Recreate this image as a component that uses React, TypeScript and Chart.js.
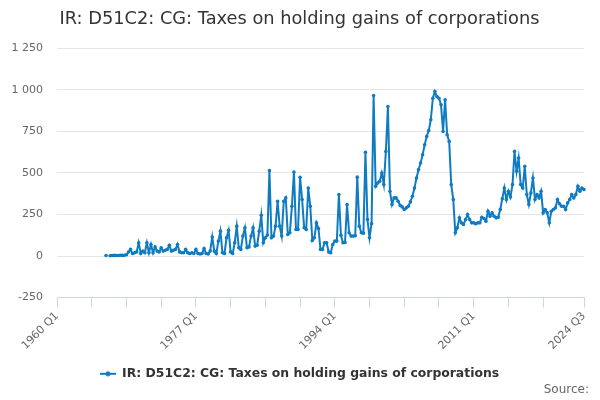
import { useEffect, useRef } from "react";
import { Chart, registerables } from "chart.js";

Chart.register(...registerables);

const TITLE = "IR: D51C2: CG: Taxes on holding gains of corporations";
const SERIES_NAME = "IR: D51C2: CG: Taxes on holding gains of corporations";
const SOURCE = "Source:";

// axis runs 1960 Q1 .. 2024 Q3
const FIRST_YEAR = 1960;
const LAST_YEAR = 2024;
const LAST_QUARTER = 3;
// series starts in 1966 Q1, nothing before
const QUARTERS_BEFORE_DATA = 24;

const xTickStep = 17;
const xTickLabels = ["1960 Q1", "1977 Q1", "1994 Q1", "2011 Q1", "2024 Q3"];
const yTicks = [-250, 0, 250, 500, 750, 1000, 1250];

// quarterly values, Q1..Q4 per row
const values1966to1979 = [
  3, null, 2, 3,
  4, 3, 3, 5,
  4, 5, 8, 24,
  40, 15, 20, 25,
  80, 15, 30, 20,
  80, 20, 70, 20,
  55, 30, 25, 50,
  30, 35, 40, 65,
  30, 35, 40, 70,
  25, 20, 20, 40,
  20, 15, 20, 15,
  40, 15, 12, 15,
  45, 15, 12, 30,
  115, 30, 15, 90,
];

const values1980to1994 = [
  150, 20, 15, 110,
  155, 25, 15, 80,
  180, 50, 40, 120,
  170, 50, 55, 120,
  170, 60, 65, 150,
  245, 80, 110, 126,
  514, 110, 120, 180,
  330, 180, 120, 330,
  350, 130, 140, 300,
  506, 160, 160, 474,
  340, 170, 160, 410,
  300, 94, 110, 200,
  166, 40, 40, 80,
  80, 24, 20, 70,
  90, 90, 370, 125,
];

const values1995to2009 = [
  80, 82, 310, 140,
  120, 120, 122, 475,
  180, 140, 138, 625,
  220, 110, 195, 966,
  420, 440, 450, 500,
  430, 630, 900, 390,
  310, 350, 350, 330,
  305, 296, 280, 290,
  300, 326, 360, 410,
  470, 520, 560, 610,
  670, 720, 755, 820,
  950, 990, 960, 950,
  910, 750, 940, 730,
  690, 430, 340, 140,
  170, 230, 200, 190,
];

const values2010to2024 = [
  220, 250, 220, 200,
  200, 194, 200, 200,
  234, 226, 210, 270,
  240, 260, 240, 230,
  234, 280, 345, 410,
  340, 390, 355, 430,
  630, 510, 590, 430,
  410, 540, 370, 310,
  380, 470, 340, 370,
  350, 390, 260, 280,
  260, 200, 270, 280,
  290, 340, 315, 300,
  300, 280, 320, 340,
  370, 350, 370, 420,
  390, 410, 400,
];

const quarterLabels: string[] = [];
for (let y = FIRST_YEAR; y <= LAST_YEAR; y++) {
  for (let q = 1; q <= 4; q++) {
    if (y === LAST_YEAR && q > LAST_QUARTER) break;
    quarterLabels.push(`${y} Q${q}`);
  }
}

const seriesValues: (number | null)[] = [
  ...new Array(QUARTERS_BEFORE_DATA).fill(null),
  ...values1966to1979,
  ...values1980to1994,
  ...values1995to2009,
  ...values2010to2024,
];

const LINE_COLOR = "#0f7bc1";
const FONT = "'DejaVu Sans', sans-serif";

function legendSymbol() {
  const c = document.createElement("canvas");
  c.width = 16;
  c.height = 8;
  const g = c.getContext("2d")!;
  g.strokeStyle = LINE_COLOR;
  g.lineWidth = 2;
  g.beginPath();
  g.moveTo(0, 4);
  g.lineTo(16, 4);
  g.stroke();
  g.fillStyle = LINE_COLOR;
  g.beginPath();
  g.arc(8, 4, 2.5, 0, Math.PI * 2);
  g.fill();
  return c;
}

// "Source:" credit in the bottom right corner
const sourceCredit = {
  id: "sourceCredit",
  afterDraw(chart: Chart) {
    const { ctx, width } = chart;
    ctx.save();
    ctx.font = `12px ${FONT}`;
    ctx.fillStyle = "#666666";
    ctx.textAlign = "right";
    ctx.textBaseline = "middle";
    ctx.fillText(SOURCE, width - 11, 390);
    ctx.restore();
  },
};

export default function App() {
  const canvasRef = useRef<HTMLCanvasElement>(null);

  useEffect(() => {
    if (!canvasRef.current) return;
    const lastIndex = quarterLabels.length - 1;
    const tickIndexes: number[] = [];
    for (let i = 0; i <= lastIndex - xTickStep; i += xTickStep) tickIndexes.push(i);
    tickIndexes.push(lastIndex);

    const chart = new Chart(canvasRef.current, {
      type: "line",
      data: {
        labels: quarterLabels,
        datasets: [
          {
            label: SERIES_NAME,
            data: seriesValues,
            borderColor: LINE_COLOR,
            backgroundColor: LINE_COLOR,
            borderWidth: 2,
            pointRadius: 1.8,
            pointHoverRadius: 3,
            pointBorderWidth: 0,
            tension: 0,
            spanGaps: false,
          },
        ],
      },
      plugins: [sourceCredit],
      options: {
        animation: false,
        responsive: true,
        maintainAspectRatio: false,
        layout: { padding: { left: 8, right: 9, top: 0, bottom: 10 } },
        plugins: {
          title: {
            display: true,
            text: TITLE,
            color: "#333333",
            font: { family: FONT, size: 17.8, weight: "normal" },
            padding: { top: 9, bottom: 18 },
          },
          legend: {
            position: "bottom",
            labels: {
              usePointStyle: true,
              pointStyle: legendSymbol(),
              pointStyleWidth: 16,
              color: "#333333",
              font: { family: FONT, size: 12.4, weight: "bold" },
              padding: 6,
            },
          },
        },
        scales: {
          x: {
            type: "category",
            afterBuildTicks: (scale) => {
              scale.ticks = tickIndexes.map((v) => ({ value: v }));
            },
            afterFit: (scale) => {
              scale.height = 64;
            },
            ticks: {
              autoSkip: false,
              minRotation: 45,
              maxRotation: 45,
              color: "#666666",
              padding: 2,
              font: { family: FONT, size: 11 },
              callback: (value) => {
                const label = quarterLabels[value as number];
                return xTickLabels.includes(label) ? label : "";
              },
            },
            grid: {
              drawOnChartArea: false,
              drawTicks: true,
              tickLength: 10,
              color: "#ccd6eb",
            },
            border: { display: true, color: "#ccd6eb", width: 1 },
          },
          y: {
            min: yTicks[0],
            max: yTicks[yTicks.length - 1],
            afterBuildTicks: (scale) => {
              scale.ticks = yTicks.map((v) => ({ value: v }));
            },
            afterFit: (scale) => {
              scale.width = 49;
            },
            ticks: {
              color: "#666666",
              padding: 14,
              font: { family: FONT, size: 11 },
              callback: (value) =>
                String(value).replace(/\B(?=(\d{3})+(?!\d))/g, " "),
            },
            grid: { color: "#e6e6e6", drawTicks: false },
            border: { display: false },
          },
          // empty right-hand strip so the plot ends where the reference does
          rightGap: {
            position: "right",
            min: yTicks[0],
            max: yTicks[yTicks.length - 1],
            afterFit: (scale) => {
              scale.width = 7;
            },
            ticks: { display: false },
            grid: { display: false, drawTicks: false },
            border: { display: false },
          },
        },
      },
    });

    return () => chart.destroy();
  }, []);

  return (
    <div style={{ position: "fixed", left: 0, top: 0, width: 600, height: 400, background: "#fff" }}>
      <canvas ref={canvasRef} />
    </div>
  );
}
